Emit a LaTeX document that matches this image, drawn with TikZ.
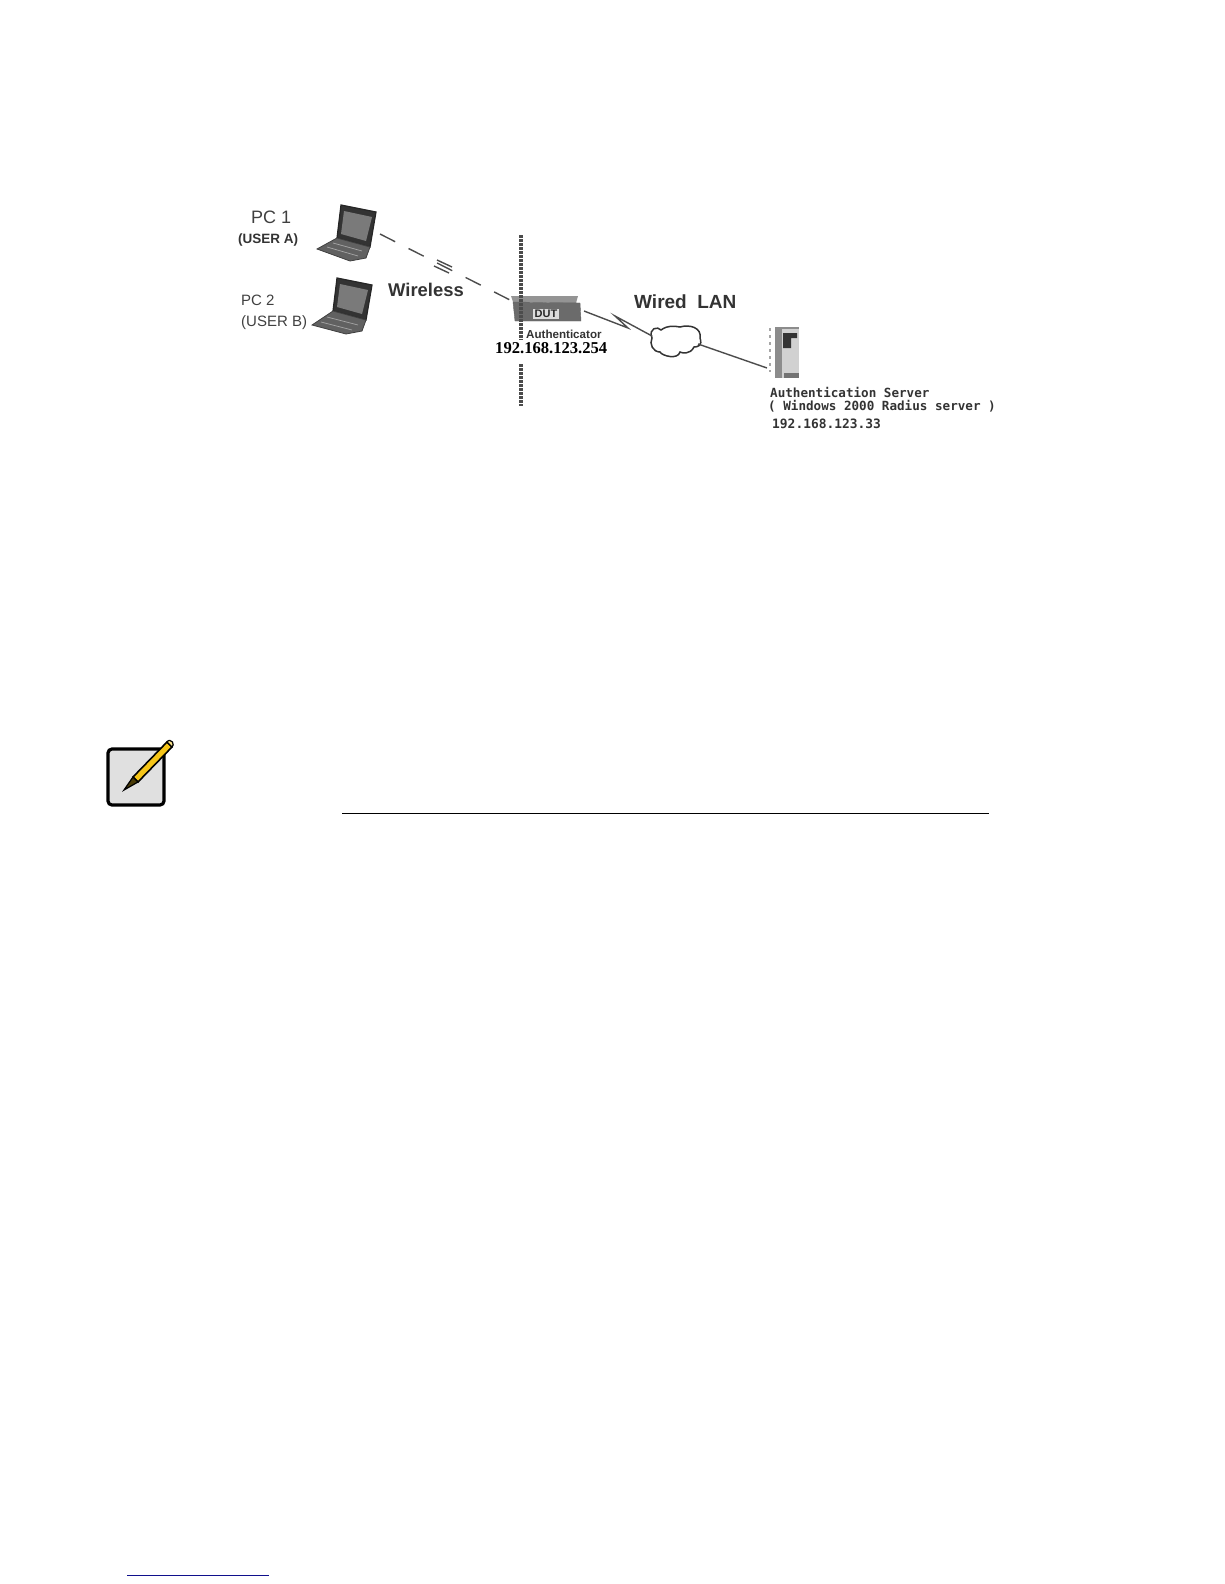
\documentclass[tikz,border=0pt]{standalone}
\usepackage{fontspec}
\setmainfont{Liberation Sans}
\newfontfamily\serifb{Liberation Serif}
\newfontfamily\monob{DejaVu Sans Mono}
\definecolor{pencilc}{HTML}{F5C518}
\definecolor{navyl}{HTML}{10108C}
\begin{document}
\begin{tikzpicture}[x=1pt,y=-1pt,
  lbl/.style={inner sep=0pt,anchor=west,text=black!75},
  boldlbl/.style={inner sep=0pt,anchor=west,font=\bfseries,text=black!80},
  link/.style={draw=black!70,line width=1.4pt},
  dashlink/.style={link,dash pattern=on 17pt off 15pt},
  scr/.style={fill=black!80,draw=black!85,line width=1.2pt},
  scrin/.style={fill=black!52},
  kbd/.style={fill=black!62,draw=black!75,line width=.8pt},
  keys/.style={draw=black!35,line width=.7pt}]
\useasboundingbox (0,0) rectangle (1224,1584);
% PC1
\path[scr] (341,205) -- (376,212) -- (370,247) -- (337,238) -- cycle;
\path[scrin] (344,211) -- (372,217) -- (366,241) -- (341,234) -- cycle;
\path[kbd] (337,238) -- (370,247) -- (366,258) -- (350,261) -- (317,249) -- cycle;
\draw[keys] (333,243) -- (362,251) (327,247) -- (358,256);
% PC2
\path[scr] (337,278) -- (372,285) -- (366,320) -- (333,311) -- cycle;
\path[scrin] (340,284) -- (368,290) -- (362,314) -- (337,307) -- cycle;
\path[kbd] (333,311) -- (366,320) -- (362,331) -- (346,334) -- (312,325) -- cycle;
\draw[keys] (327,317) -- (358,325) (321,322) -- (352,330);
\coordinate (pc1) at (380,234);
% DUT
\path[fill=black!42] (511,296) -- (578,296) -- (576,303) -- (513,302) -- cycle;
\path[fill=black!58,draw=black!60] (513,302) -- (580,303) -- (581,321) -- (515,321) -- cycle;
\node[fill=black!14,inner sep=1.5pt,font=\bfseries\fontsize{11}{11}\selectfont,text=black!85] (dut) at (546,314) {DUT};
\coordinate (dutl) at (510,300);
\coordinate (dutr) at (584,311);
% dashed separator
\coordinate (s1) at (521,235);
\coordinate (s2) at (521,340);
\coordinate (s3) at (521,364);
\coordinate (s4) at (521,406);
\draw[black!70,line width=3.6pt,dash pattern=on 3.2pt off .8pt] (s1) -- (s2);
\draw[black!70,line width=3.6pt,dash pattern=on 3.2pt off .8pt] (s3) -- (s4);
% wireless
\draw[dashlink] (pc1) -- (dutl);
\draw[link] (437,260) -- (452,267) (434,266) -- (449,273);
% cloud
\path[draw=black!80,fill=white,line width=1.5pt] (652,338)
  .. controls (648,328) and (658,326) .. (661,330)
  .. controls (668,325) and (674,326) .. (680,327)
  .. controls (690,324) and (702,328) .. (700,338)
  .. controls (703,346) and (697,347) .. (694,347)
  .. controls (690,355) and (682,353) .. (680,352)
  .. controls (678,360) and (662,356) .. (660,352)
  .. controls (653,352) and (649,344) .. (652,338) -- cycle;
\coordinate (cl) at (652,336);
\coordinate (cr) at (698,344);
\coordinate (srvl) at (767,368);
\draw[link] (dutr) -- (628,328) -- (615,316) -- (cl);
\draw[link] (cr) -- (srvl);
% server
\path[fill=black!45] (775,327) -- (799,327) -- (799,378) -- (775,378) -- cycle;
\path[fill=black!18] (782,329) -- (799,329) -- (799,378) -- (782,378) -- cycle;
\path[fill=black!80] (783,333) rectangle (797,338) (783,333) rectangle (791,348);
\path[fill=black!55] (784,373) rectangle (799,378);
\path[draw=black!35,line width=2.4pt,dash pattern=on 3pt off 4pt] (770,328) -- (770,372);
% labels
\node[lbl,font=\fontsize{18}{18}\selectfont] (t1) at (251,217) {PC 1};
\node[boldlbl,font=\bfseries\fontsize{13.5}{13.5}\selectfont] (t2) at (238,240) {(USER A)};
\node[lbl,font=\fontsize{15}{15}\selectfont] (t3) at (241,300) {PC 2};
\node[lbl,font=\fontsize{15}{15}\selectfont] (t4) at (241,323) {(USER B)};
\node[boldlbl,font=\bfseries\fontsize{18.4}{18.4}\selectfont] (t5) at (388,290) {Wireless};
\node[boldlbl,font=\bfseries\fontsize{19}{19}\selectfont] (t6) at (634,302) {Wired\ \ LAN};
\node[boldlbl,font=\bfseries\fontsize{11.6}{11.6}\selectfont] (t7) at (526,334) {Authenticator};
\node[boldlbl,font=\serifb\bfseries\fontsize{16.6}{16.6}\selectfont,text=black] (t8) at (495,348) {192.168.123.254};
\node[boldlbl,font=\monob\bfseries\fontsize{12.6}{12.6}\selectfont] (t9) at (770,392) {Authentication Server};
\node[boldlbl,font=\monob\bfseries\fontsize{12.6}{12.6}\selectfont] (t10) at (768,406) {( Windows 2000 Radius server )};
\node[boldlbl,font=\monob\bfseries\fontsize{12.9}{12.9}\selectfont] (t11) at (772,424) {192.168.123.33};
% note icon
\path[fill=black!12,draw=black,line width=3.2pt,rounded corners=4pt] (108,749) rectangle (164,805);
\path[fill=pencilc,draw=black,line width=1.6pt] (133,777) -- (167,742) -- (172,747) -- (138,782) -- cycle;
\path[fill=pencilc!50!white,draw=black,line width=1.2pt] (167,742) .. controls (169,739) and (171,741) .. (172.5,742) .. controls (174,744) and (173,746) .. (172,747) -- cycle;
\path[fill=black!70!pencilc,draw=black,line width=1.2pt] (133,777) -- (138,782) -- (124,790) -- cycle;
% rules
\draw[black,line width=1pt] (342,813) -- (989,813);
\draw[navyl,line width=1pt] (127,1575) -- (269,1575);
\end{tikzpicture}
\end{document}
